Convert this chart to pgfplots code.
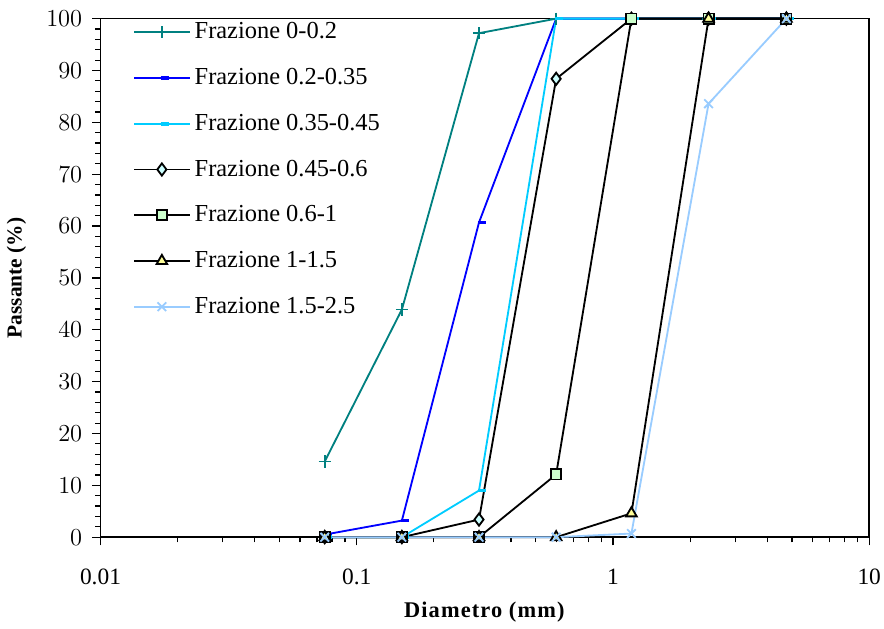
\documentclass[border=0pt]{standalone}
\usepackage{fontspec}
\setmainfont{Liberation Serif}
\usepackage{pgfplots}
\pgfplotsset{compat=1.18}

\definecolor{cTeal}{RGB}{0,128,128}
\definecolor{cBlue}{RGB}{0,0,255}
\definecolor{cSky}{RGB}{0,204,255}
\definecolor{fCyan}{RGB}{204,255,255}
\definecolor{fGreen}{RGB}{204,255,204}
\definecolor{fYellow}{RGB}{255,255,153}
\definecolor{cPale}{RGB}{153,204,255}

% short dash set a little to the right of the point, as in the reference
\pgfdeclareplotmark{rdash}{%
  \pgfpathmoveto{\pgfqpoint{-0.6pt}{0pt}}%
  \pgfpathlineto{\pgfqpoint{3.6pt}{0pt}}%
  \pgfusepathqstroke}

\begin{document}
\begin{tikzpicture}
\begin{axis}[
  scale only axis,
  width=377.6pt, height=254.7pt,
  xmode=log, xmin=0.01, xmax=10,
  ymin=0, ymax=100,
  xtick={0.01,0.1,1,10}, xticklabels={0.01,0.1,1,10},
  minor xtick={0.02,0.03,0.04,0.05,0.06,0.07,0.08,0.09,0.2,0.3,0.4,0.5,0.6,0.7,0.8,0.9,2,3,4,5,6,7,8,9},
  ytick={0,10,...,100}, minor y tick num=4,
  tick align=outside, tick pos=left,
  major tick length=4pt, minor tick length=2.5pt,
  tick style={black, line width=0.6pt},
  axis line style={line width=0.8pt},
  ticklabel style={font=\fontsize{11.5}{12}\selectfont},
  xticklabel style={yshift=-8pt, inner xsep=1.5pt},
  yticklabel style={xshift=-1.5pt, inner ysep=5.3pt},
  xlabel={\addfontfeature{LetterSpace=5}\textbf{Diametro (mm)}},
  ylabel={\textbf{Passante (\%)}},
  xlabel style={font=\fontsize{11}{12}\selectfont, yshift=-1.5pt},
  ylabel style={font=\fontsize{10.5}{12}\selectfont},
  ylabel shift=3pt,
  clip=false,
  legend style={at={(rel axis cs:0.034,1.009)}, anchor=north west,
    draw=none, fill=none, font=\fontsize{12}{13}\selectfont,
    row sep=9pt, cells={anchor=west}},
  legend image code/.code={
    \draw[mark repeat=2,mark phase=2,#1] plot coordinates {(0cm,0cm) (0.48cm,0cm) (0.96cm,0cm)};
  },
]
\addplot[cTeal, line width=0.9pt, mark=+, mark size=3pt] coordinates {
  (0.075,14.6) (0.15,43.9) (0.3,97.2) (0.6,100) (1.18,100) (2.36,100) (4.75,100)};
\addlegendentry{Frazione 0-0.2}
\addplot[cBlue, line width=0.9pt, mark=rdash, mark options={line width=1.8pt}] coordinates {
  (0.075,0.5) (0.15,3.2) (0.3,60.7) (0.6,100) (1.18,100) (2.36,100) (4.75,100)};
\addlegendentry{Frazione 0.2-0.35}
\addplot[cSky, line width=0.9pt, mark=rdash, mark options={line width=1.8pt}] coordinates {
  (0.075,0) (0.15,0) (0.3,9.0) (0.6,100) (1.18,100) (2.36,100) (4.75,100)};
\addlegendentry{Frazione 0.35-0.45}
\addplot[black, line width=0.9pt, mark=diamond*, mark size=3pt, mark options={fill=fCyan}] coordinates {
  (0.075,0) (0.15,0) (0.3,3.4) (0.6,88.4) (1.18,100) (2.36,100) (4.75,100)};
\addlegendentry{Frazione 0.45-0.6}
\addplot[black, line width=0.9pt, mark=square*, mark size=2.5pt, mark options={fill=fGreen}] coordinates {
  (0.075,0) (0.15,0) (0.3,0) (0.6,12.1) (1.18,100) (2.36,100) (4.75,100)};
\addlegendentry{Frazione 0.6-1}
\addplot[black, line width=0.9pt, mark=triangle*, mark size=3pt, mark options={fill=fYellow}] coordinates {
  (0.075,0) (0.15,0) (0.3,0) (0.6,0) (1.18,4.6) (2.36,100) (4.75,100)};
\addlegendentry{Frazione 1-1.5}
\addplot[cPale, line width=0.9pt, mark=x, mark size=3pt] coordinates {
  (0.075,0) (0.15,0) (0.3,0) (0.6,0) (1.18,0.7) (2.36,83.6) (4.75,100)};
\addlegendentry{Frazione 1.5-2.5}
\end{axis}
\end{tikzpicture}
\end{document}
